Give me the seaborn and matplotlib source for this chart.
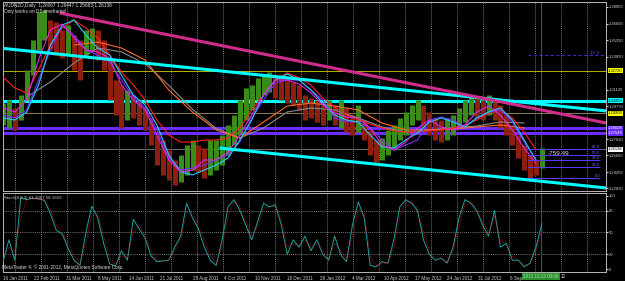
import numpy as np
import pandas as pd
import matplotlib
matplotlib.use("Agg")
import matplotlib.pyplot as plt
import matplotlib.dates as mdates
import matplotlib.transforms as mtransforms
import seaborn as sns

sns.set_style("dark")
plt.rcParams["font.family"] = ["Liberation Sans", "DejaVu Sans"]

# ---------------- data ----------------
first_week = "2011-01-16"
weekly_high = [1.3002, 1.3028, 1.2961, 1.3069, 1.3278, 1.3529, 1.3763, 1.3780, 1.3696, 1.3680,
               1.3613, 1.3655, 1.3571, 1.3529, 1.3613, 1.3629, 1.3613, 1.3529, 1.3362, 1.3195,
               1.3153, 1.3111, 1.3069, 1.3028, 1.2961, 1.2877, 1.2735, 1.2693, 1.2610, 1.2526,
               1.2568, 1.2651, 1.2693, 1.2651, 1.2626, 1.2693, 1.2693, 1.2735, 1.2819, 1.2902,
               1.3028, 1.3128, 1.3153, 1.3211, 1.3237, 1.3262, 1.3237, 1.3237, 1.3195, 1.3178,
               1.3153, 1.3069, 1.3044, 1.3028, 1.2986, 1.3028, 1.2986, 1.3028, 1.2961, 1.2902,
               1.2986, 1.2860, 1.2777, 1.2693, 1.2710, 1.2777, 1.2819, 1.2877, 1.2927, 1.2986,
               1.3028, 1.2986, 1.2927, 1.2877, 1.2860, 1.2877, 1.2902, 1.2961, 1.3028, 1.3069,
               1.3053, 1.3028, 1.3069, 1.3044, 1.2986, 1.2902, 1.2819, 1.2735, 1.2651, 1.2568,
               1.2526, 1.2626]
weekly_low = [1.2819, 1.2793, 1.2777, 1.2860, 1.3028, 1.3237, 1.3446, 1.3529, 1.3446, 1.3404,
              1.3379, 1.3404, 1.3278, 1.3195, 1.3404, 1.3446, 1.3362, 1.3278, 1.3028, 1.2902,
              1.2793, 1.2860, 1.2877, 1.2819, 1.2777, 1.2651, 1.2484, 1.2400, 1.2359, 1.2317,
              1.2342, 1.2400, 1.2442, 1.2426, 1.2375, 1.2400, 1.2442, 1.2484, 1.2568, 1.2651,
              1.2735, 1.2860, 1.2944, 1.3028, 1.3069, 1.3094, 1.3044, 1.3028, 1.3002, 1.2986,
              1.2944, 1.2860, 1.2877, 1.2844, 1.2819, 1.2860, 1.2819, 1.2793, 1.2760, 1.2735,
              1.2760, 1.2693, 1.2568, 1.2509, 1.2526, 1.2568, 1.2626, 1.2693, 1.2735, 1.2819,
              1.2860, 1.2793, 1.2735, 1.2693, 1.2676, 1.2693, 1.2735, 1.2793, 1.2844, 1.2902,
              1.2877, 1.2860, 1.2902, 1.2860, 1.2793, 1.2735, 1.2651, 1.2543, 1.2442, 1.2375,
              1.2400, 1.2459]

# moving averages sampled every 2 weeks
ma_magenta = [1.2961, 1.2927, 1.3028, 1.3362, 1.3613, 1.3663, 1.3546, 1.3446, 1.3429, 1.3379,
              1.3153, 1.3028, 1.2944, 1.2735, 1.2526, 1.2426, 1.2442, 1.2526, 1.2526, 1.2593,
              1.2735, 1.2902, 1.3069, 1.3195, 1.3195, 1.3161, 1.3086, 1.2986, 1.2919, 1.2885,
              1.2877, 1.2794, 1.2651, 1.2610, 1.2676, 1.2794, 1.2860, 1.2802, 1.2777, 1.2819,
              1.2927, 1.2977, 1.2902, 1.2777, 1.2626, 1.2501]
ma_cyan = [1.2877, 1.2860, 1.2927, 1.3153, 1.3487, 1.3654, 1.3696, 1.3571, 1.3462, 1.3404,
           1.3236, 1.3069, 1.2986, 1.2819, 1.2568, 1.2426, 1.2401, 1.2442, 1.2484, 1.2543,
           1.2693, 1.2860, 1.3069, 1.3195, 1.3245, 1.3195, 1.3111, 1.3002, 1.2902, 1.2860,
           1.2844, 1.2735, 1.2635, 1.2626, 1.2693, 1.2752, 1.2844, 1.2877, 1.2844, 1.2802,
           1.2877, 1.2927, 1.2961, 1.2860, 1.2693, 1.2526]
ma_violet = [1.2902, 1.2877, 1.2944, 1.3195, 1.3446, 1.3646, 1.3571, 1.3446, 1.3404, 1.3345,
             1.3195, 1.3053, 1.2961, 1.2777, 1.2543, 1.2442, 1.2459, 1.2484, 1.2526, 1.2568,
             1.2676, 1.2877, 1.3028, 1.3170, 1.3195, 1.3195, 1.3111, 1.3028, 1.2877, 1.2844,
             1.2844, 1.2794, 1.2693, 1.2610, 1.2651, 1.2693, 1.2860, 1.2885, 1.2860, 1.2802,
             1.2877, 1.2927, 1.2944, 1.2844, 1.2676, 1.2526]
ma_red = [1.3220, 1.3128, 1.3086, 1.3278, 1.3487, 1.3629, 1.3696, 1.3629, 1.3546, 1.3404,
          1.3262, 1.3153, 1.3028, 1.2860, 1.2735, 1.2676, 1.2676, 1.2693, 1.2693, 1.2710,
          1.2794, 1.2944, 1.3069, 1.3195, 1.3254, 1.3212, 1.3153, 1.3044, 1.2969, 1.2902,
          1.2860, 1.2827, 1.2794, 1.2769, 1.2760, 1.2760, 1.2769, 1.2777, 1.2794, 1.2819,
          1.2860, 1.2919, 1.2944, 1.2877, 1.2760, 1.2610]
# slow moving averages sampled every 4 weeks
ma_orange = [np.nan, np.nan, np.nan, 1.3487, 1.3512, 1.3462, 1.3362, 1.3111, 1.2927, 1.2777,
             1.2710, 1.2844, 1.2977, 1.3002, 1.2977, 1.2944, 1.2835, 1.2777, 1.2777, 1.2785,
             1.2802, 1.2819, 1.2794]
ma_gray = [np.nan, 1.3053, 1.3178, 1.3337, 1.3462, 1.3430, 1.3330, 1.3150, 1.2950, 1.2790,
           1.2710, 1.2794, 1.2927, 1.2961, 1.2944, 1.2877, 1.2802, 1.2760, 1.2777, 1.2794,
           1.2810, 1.2844, 1.2835]

stoch_main = [10, 40, 12, 98, 95, 97, 96, 94, 76, 53, 48, 28, 12, 5, 50, 86, 70, 35, 7, 4,
              25, 12, 68, 55, 42, 18, 10, 11, 12, 30, 45, 90, 70, 55, 30, 12, 5, 40, 85, 95,
              80, 60, 40, 65, 90, 85, 88, 60, 20, 40, 30, 45, 25, 40, 20, 12, 45, 20, 10, 60,
              92, 70, 5, 3, 10, 8, 40, 85, 95, 90, 80, 40, 20, 12, 15, 8, 30, 70, 95, 90,
              80, 60, 45, 80, 30, 35, 12, 12, 3, 8, 30, 62]
stoch_signal = [15, 30, 25, 70, 95, 96, 96, 95, 82, 60, 50, 35, 18, 8, 35, 75, 76, 45, 15, 6,
                18, 15, 50, 60, 46, 25, 12, 11, 12, 25, 40, 78, 76, 60, 38, 18, 8, 30, 72, 92,
                85, 65, 45, 58, 82, 86, 86, 68, 30, 35, 32, 40, 30, 36, 25, 15, 35, 25, 14, 45,
                82, 76, 18, 5, 8, 8, 30, 72, 92, 92, 82, 50, 26, 15, 14, 10, 25, 60, 88, 92,
                82, 65, 50, 72, 40, 34, 18, 12, 5, 7, 24, 52]

# horizontal levels
level_prices = [1.3272, 1.3020, 1.2915, 1.2793, 1.2751, 1.2614]
level_labels = ["1.32720", "1.30209", "1.29203", "1.28028", "1.27549", "1.26138"]
# trend lines (start date, start price, end date, end price)
trend_upper_cyan = ("2011-01-12", 1.3462, "2012-12-29", 1.2936)
trend_magenta = ("2011-03-24", 1.3755, "2012-12-29", 1.2835)
trend_lower_cyan = ("2011-09-29", 1.2626, "2012-12-29", 1.2292)
fib_prices = [1.2618, 1.2568, 1.2526, 1.2467, 1.2375]
fib_labels = ["61.8", "50.0", "38.2", "23.6", "0.0"]
fib_ext_price = 1.3404
price_ticks = [1.3805, 1.3665, 1.3525, 1.3389, 1.3113, 1.2977, 1.2701, 1.2565, 1.2425, 1.2289]
date_ticks = ["2011-01-16", "2011-02-22", "2011-03-31", "2011-05-08", "2011-06-14", "2011-07-21",
              "2011-08-28", "2011-10-04", "2011-11-10", "2011-12-18", "2012-01-26", "2012-03-04",
              "2012-04-10", "2012-05-17", "2012-06-24", "2012-07-31", "2012-09-06"]
date_tick_labels = ["16 Jan 2011", "22 Feb 2011", "31 Mar 2011", "8 May 2011", "14 Jun 2011",
                    "21 Jul 2011", "28 Aug 2011", "4 Oct 2011", "10 Nov 2011", "18 Dec 2011",
                    "26 Jan 2012", "4 Mar 2012", "10 Apr 2012", "17 May 2012", "24 Jun 2012",
                    "31 Jul 2012", "6 Sep 2012"]

# ---------------- figure ----------------
W, H = 625, 281
fig = plt.figure(figsize=(W / 100, H / 100), dpi=100, facecolor="black")


def rect(l, t, r, b):
    return [l / W, 1 - b / H, (r - l) / W, (b - t) / H]


ax = fig.add_axes(rect(3, 2, 606, 191))
axs = fig.add_axes(rect(3, 193, 606, 272))
for a in (ax, axs):
    a.set_facecolor("black")
    for s in a.spines.values():
        s.set_color("#b8b8b8")
        s.set_linewidth(0.7)
    a.grid(False)

weeks = mdates.date2num(pd.date_range(first_week, periods=len(weekly_high), freq="7D"))
weeks2 = weeks[::2]
weeks4 = weeks[::4]
x0 = mdates.date2num(pd.Timestamp(first_week))
px_day = 0.846
xmax = x0 + 603 / px_day


def px2date(px):
    return x0 + (px - 3) / px_day


for a in (ax, axs):
    a.set_xlim(x0, xmax)
    for d in np.arange(x0 + 14.2, xmax, 30.73):
        a.axvline(d, color="#9a9a9a", lw=0.5, ls=(0, (1.5, 1.5)), zorder=0.5)
    a.axvline(px2date(541), color="#1f6f1f", lw=0.8, zorder=0.6)

ax.set_ylim(1.22667, 1.38468)

# horizontal levels
level_colors = ["#b4b400", "#00ffff", "#8b7d50", "#6a2cff", "#6a2cff", "#707070"]
level_widths = [0.7, 2.2, 0.7, 2.2, 2.2, 0.7]
for p, c, w in zip(level_prices, level_colors, level_widths):
    ax.axhline(p, color=c, lw=w, zorder=1)

# candles (weekly ranges)
mid = (np.array(weekly_high) + np.array(weekly_low)) / 2
up = np.r_[True, np.diff(mid) >= 0]
cols = np.where(up, "#3a8c1a", "#8e1e0e")
ax.vlines(weeks, weekly_low, weekly_high, colors=cols, lw=3.6, zorder=2)

# moving averages
sns.lineplot(x=weeks4, y=ma_gray, ax=ax, color="#8a8a8a", lw=0.8, estimator=None, zorder=3)
sns.lineplot(x=weeks4, y=ma_orange, ax=ax, color="#ff6a28", lw=0.8, estimator=None, zorder=3)
sns.lineplot(x=weeks2, y=ma_red, ax=ax, color="#ff1e1e", lw=0.8, estimator=None, zorder=3)
sns.lineplot(x=weeks2, y=ma_violet, ax=ax, color="#7a2cff", lw=0.8, estimator=None, zorder=3)
sns.lineplot(x=weeks2, y=ma_cyan, ax=ax, color="#28c8ff", lw=0.8, estimator=None, zorder=3)
sns.lineplot(x=weeks2, y=ma_magenta, ax=ax, color="#e028e0", lw=0.8, estimator=None, zorder=3)

# trend lines
for tl, c in ((trend_upper_cyan, "#00ffff"), (trend_magenta, "#d02c8c"), (trend_lower_cyan, "#00ffff")):
    xs = mdates.date2num([pd.Timestamp(tl[0]), pd.Timestamp(tl[2])])
    ax.plot(xs, [tl[1], tl[3]], color=c, lw=2.2, zorder=4, solid_capstyle="butt")

# fibonacci levels
f0, f1 = px2date(527), px2date(600)
ax.hlines(fib_prices, f0, f1, colors="#5a3cff", lw=0.7, zorder=3)
for p, t in zip(fib_prices, fib_labels):
    ax.text(f1, p, t, ha="right", va="bottom", fontsize=3.0, color="#6a6aff", zorder=5)
ax.hlines(fib_ext_price, px2date(528), xmax, colors="#3a28c8", lw=0.8, ls=(0, (3, 2)), zorder=3)
ax.text(px2date(600), fib_ext_price, "161.8", ha="right", va="bottom", fontsize=3.0, color="#4a4ad0")
ax.text(px2date(548), 1.2584, "-759.49", ha="left", va="center", fontsize=4.6, color="#d8d8d8", zorder=6)

# price axis
ax.yaxis.tick_right()
ax.set_yticks(price_ticks)
ax.set_yticklabels([f"{p:.5f}" for p in price_ticks])
ax.tick_params(axis="y", labelsize=3.0, colors="#d0d0d0", length=1.5, pad=0.8)
ax.tick_params(axis="x", bottom=False, labelbottom=False)
trans = mtransforms.blended_transform_factory(ax.transAxes, ax.transData)
box_fc = ["#ffff00", "#00ffff", "#ffff00", "#6a2cff", "#6a2cff", "#ffffff"]
box_tc = ["black", "black", "black", "white", "white", "black"]
for p, t, fc, tc in zip(level_prices, level_labels, box_fc, box_tc):
    ax.text(1.0035, p, t, transform=trans, fontsize=3.0, color=tc, ha="left", va="center",
            bbox=dict(boxstyle="square,pad=0.12", fc=fc, ec="none"), clip_on=False, zorder=10)

# stochastic pane
axs.set_ylim(-4.1, 104.1)
for lv in (20, 50, 80):
    axs.axhline(lv, color="#9a9a9a", lw=0.5, ls=(0, (1.5, 1.5)), zorder=0.5)
sns.lineplot(x=weeks, y=stoch_main, ax=axs, color="#1fa0a0", lw=0.7, estimator=None, zorder=3)
sns.lineplot(x=weeks, y=stoch_signal, ax=axs, color="#e02020", lw=0.6, ls=(0, (1, 1.5)),
             estimator=None, zorder=3)
axs.yaxis.tick_right()
axs.set_yticks([0, 20, 50, 80, 100])
axs.set_yticklabels(["0", "20", "50", "80", "100"])
axs.tick_params(axis="y", labelsize=3.0, colors="#d0d0d0", length=1.5, pad=0.8)
tick_nums = mdates.date2num([pd.Timestamp(d) for d in date_ticks])
axs.set_xticks(tick_nums)
axs.set_xticklabels(date_tick_labels)
axs.tick_params(axis="x", labelsize=3.3, colors="#d0d0d0", length=2, pad=0.8, direction="out")
for lab in axs.get_xticklabels():
    lab.set_ha("left")
for a in (ax, axs):
    a.set_xlabel("")
    a.set_ylabel("")

# texts
fig.text(4 / W, 1 - 5 / H, "AUDNZD,Daily  1.26067 1.26447 1.25683 1.26138", fontsize=3.4,
         color="#e0e0e0", va="center", ha="left")
fig.text(4 / W, 1 - 11 / H, "Only works on D1 timeframe!", fontsize=3.4, color="#e0e0e0",
         va="center", ha="left")
fig.text(4 / W, 1 - 198 / H, "Stoch(8,3,3) 61.2057 58.1659", fontsize=3.2, color="#c8c8c8",
         va="center", ha="left")
fig.text(2 / W, 1 - 267 / H, "MetaTrader 4, \u00a9 2001-2012, MetaQuotes Software Corp.",
         fontsize=3.4, color="#d8d8d8", va="center", ha="left")
fig.text(541 / W, 1 - 276.5 / H, "2012.10.13 00:00", fontsize=3.3, color="#a8f0a8",
         ha="center", va="center", bbox=dict(boxstyle="square,pad=0.2", fc="#2e8b2e", ec="none"))
fig.text(561 / W, 1 - 276.5 / H, "12", fontsize=3.3, color="#d0d0d0", ha="left", va="center")

fig.savefig("out.png", dpi=100, facecolor="black")
